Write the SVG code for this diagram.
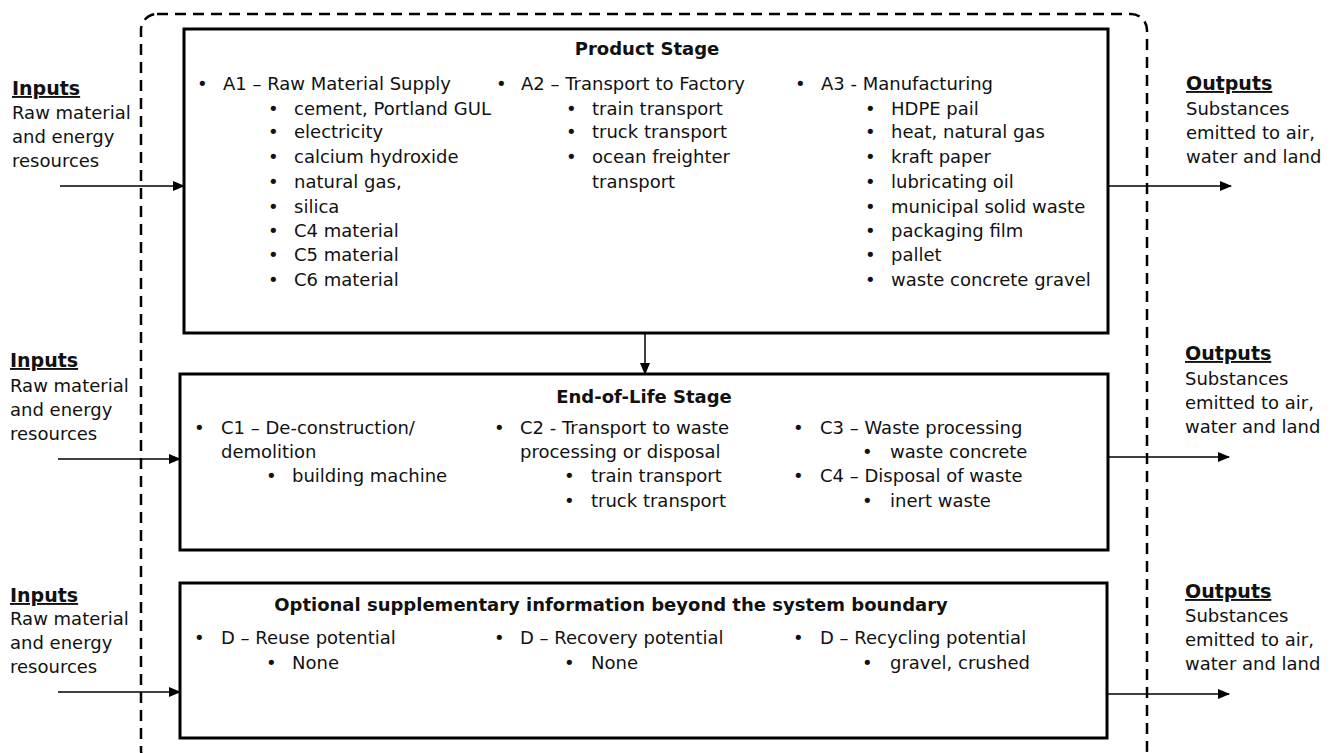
<svg xmlns="http://www.w3.org/2000/svg" width="1334" height="753" viewBox="0 0 1334 753">
<style>
text{font-family:"DejaVu Sans","Liberation Sans",sans-serif;font-size:18px;fill:#111}
.b{font-weight:bold}
.u{font-weight:bold;text-decoration:underline;font-size:19px}
.box{fill:#fff;stroke:#000;stroke-width:3}
.ln{stroke:#000;stroke-width:1.5;fill:none}
.bnd{fill:none;stroke:#000;stroke-width:2.5;stroke-dasharray:11 7}
</style>
<defs>
<marker id="ah" markerWidth="12" markerHeight="10" refX="11" refY="5" orient="auto" markerUnits="userSpaceOnUse">
<path d="M0,0 L12,5 L0,10 z" fill="#000"/>
</marker>
</defs>
<rect width="1334" height="753" fill="#fff"/>
<rect id="boundary" class="bnd" x="141" y="14" width="1006" height="752" rx="16"/>
<g id="product-stage">
<rect class="box" x="184" y="29" width="924" height="304"/>
<text class="b" x="647" y="55" text-anchor="middle">Product Stage</text>
<text x="197" y="90">•</text><text x="223" y="90">A1 – Raw Material  Supply</text>
<text x="268" y="115">•</text><text x="294" y="115">cement, Portland GUL</text>
<text x="268" y="138">•</text><text x="294" y="138">electricity</text>
<text x="268" y="163">•</text><text x="294" y="163">calcium hydroxide</text>
<text x="268" y="188">•</text><text x="294" y="188">natural gas,</text>
<text x="268" y="213">•</text><text x="294" y="213">silica</text>
<text x="268" y="237">•</text><text x="294" y="237">C4 material</text>
<text x="268" y="261">•</text><text x="294" y="261">C5 material</text>
<text x="268" y="286">•</text><text x="294" y="286">C6 material</text>
<text x="496" y="90">•</text><text x="521" y="90">A2 – Transport to Factory</text>
<text x="566" y="115">•</text><text x="592" y="115">train transport</text>
<text x="566" y="138">•</text><text x="592" y="138">truck transport</text>
<text x="566" y="163">•</text><text x="592" y="163">ocean freighter</text>
<text x="592" y="188">transport</text>
<text x="795" y="90">•</text><text x="821" y="90">A3 - Manufacturing</text>
<text x="865" y="115">•</text><text x="891" y="115">HDPE pail</text>
<text x="865" y="138">•</text><text x="891" y="138">heat, natural gas</text>
<text x="865" y="163">•</text><text x="891" y="163">kraft paper</text>
<text x="865" y="188">•</text><text x="891" y="188">lubricating oil</text>
<text x="865" y="213">•</text><text x="891" y="213">municipal solid waste</text>
<text x="865" y="237">•</text><text x="891" y="237">packaging film</text>
<text x="865" y="261">•</text><text x="891" y="261">pallet</text>
<text x="865" y="286">•</text><text x="891" y="286">waste concrete gravel</text>
</g>
<g id="end-of-life-stage">
<rect class="box" x="180" y="374" width="928" height="176"/>
<text class="b" x="644" y="403" text-anchor="middle">End-of-Life Stage</text>
<text x="194" y="434">•</text><text x="221" y="434">C1 – De-construction/</text>
<text x="221" y="458">demolition</text>
<text x="266" y="482">•</text><text x="292" y="482">building machine</text>
<text x="494" y="434">•</text><text x="520" y="434">C2 - Transport to waste</text>
<text x="520" y="458">processing or disposal</text>
<text x="564" y="482">•</text><text x="591" y="482">train transport</text>
<text x="564" y="507">•</text><text x="591" y="507">truck transport</text>
<text x="793" y="434">•</text><text x="820" y="434">C3 – Waste processing</text>
<text x="862" y="458">•</text><text x="890" y="458">waste concrete</text>
<text x="793" y="482">•</text><text x="820" y="482">C4 – Disposal of waste</text>
<text x="862" y="507">•</text><text x="890" y="507">inert waste</text>
</g>
<g id="supplementary">
<rect class="box" x="180" y="583" width="927" height="155"/>
<text class="b" x="611" y="611" text-anchor="middle">Optional supplementary information  beyond the system boundary</text>
<text x="194" y="644">•</text><text x="221" y="644">D – Reuse potential</text>
<text x="266" y="669">•</text><text x="292" y="669">None</text>
<text x="494" y="644">•</text><text x="520" y="644">D – Recovery potential</text>
<text x="564" y="669">•</text><text x="591" y="669">None</text>
<text x="793" y="644">•</text><text x="820" y="644">D – Recycling potential</text>
<text x="862" y="669">•</text><text x="890" y="669">gravel, crushed</text>
</g>
<g id="inputs-1">
<text class="u" x="12" y="95">Inputs</text>
<text x="12" y="119">Raw material</text>
<text x="12" y="143">and energy</text>
<text x="12" y="167">resources</text>
</g>
<g id="inputs-2">
<text class="u" x="10" y="367">Inputs</text>
<text x="10" y="392">Raw material</text>
<text x="10" y="416">and energy</text>
<text x="10" y="440">resources</text>
</g>
<g id="inputs-3">
<text class="u" x="10" y="602">Inputs</text>
<text x="10" y="625">Raw material</text>
<text x="10" y="649">and energy</text>
<text x="10" y="673">resources</text>
</g>
<g id="outputs-1">
<text class="u" x="1186" y="90">Outputs</text>
<text x="1186" y="115">Substances</text>
<text x="1186" y="139">emitted to air,</text>
<text x="1186" y="163">water and land</text>
</g>
<g id="outputs-2">
<text class="u" x="1185" y="360">Outputs</text>
<text x="1185" y="385">Substances</text>
<text x="1185" y="409">emitted to air,</text>
<text x="1185" y="433">water and land</text>
</g>
<g id="outputs-3">
<text class="u" x="1185" y="598">Outputs</text>
<text x="1185" y="622">Substances</text>
<text x="1185" y="646">emitted to air,</text>
<text x="1185" y="670">water and land</text>
</g>
<g id="connectors">
<line class="ln" x1="60" y1="186" x2="184" y2="186" marker-end="url(#ah)"/>
<line class="ln" x1="58" y1="459" x2="180" y2="459" marker-end="url(#ah)"/>
<line class="ln" x1="58" y1="692" x2="180" y2="692" marker-end="url(#ah)"/>
<line class="ln" x1="1108" y1="186" x2="1231" y2="186" marker-end="url(#ah)"/>
<line class="ln" x1="1108" y1="457" x2="1229" y2="457" marker-end="url(#ah)"/>
<line class="ln" x1="1107" y1="694" x2="1229" y2="694" marker-end="url(#ah)"/>
<line class="ln" x1="645" y1="333" x2="645" y2="374" marker-end="url(#ah)"/>
</g>
</svg>
